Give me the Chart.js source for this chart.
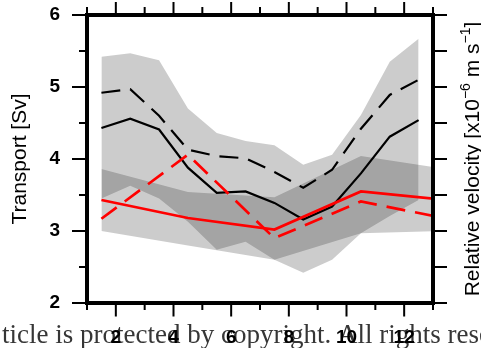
<!DOCTYPE html>
<html>
<head>
<meta charset="utf-8">
<script src="https://cdn.jsdelivr.net/npm/chart.js@4.4.1/dist/chart.umd.min.js"></script>
<style>
    html, body { margin: 0; padding: 0; background: #fff; }
    #wrap { width: 481px; height: 348px; }
</style>
</head>
<body>
<div id="wrap"><canvas id="transportChart" width="481" height="348"></canvas></div>
<script>
// Dati
const months = [1.5, 2.5, 3.5, 4.5, 5.5, 6.5, 7.5, 8.5, 9.5, 10.5, 11.5, 12.5];
const seasons = [1.5, 4.5, 7.5, 10.5, 13.5];
const monthTicks = [1, 2, 3, 4, 5, 6, 7, 8, 9, 10, 11, 12, 13];
const monthLabels = [2, 4, 6, 8, 10, 12];
const transportTicks = [2, 2.5, 3, 3.5, 4, 4.5, 5, 5.5, 6];
const transportLabels = [2, 3, 4, 5, 6];

// Bande di incertezza (mensile e stagionale)
const bandMonthUpper = [5.42, 5.47, 5.37, 4.70, 4.36, 4.25, 4.19, 3.92, 4.06, 4.61, 5.35, 5.67];
const bandMonthLower = [3.45, 3.63, 3.45, 3.13, 2.74, 2.85, 2.60, 2.42, 2.60, 2.97, 3.21, 3.43];
const bandSeasonUpper = [3.86, 3.54, 3.47, 4.04, 3.86];
const bandSeasonLower = [3.00, 2.80, 2.60, 2.97, 3.00];

// Serie
const transportSolid = [4.43, 4.56, 4.41, 3.88, 3.53, 3.55, 3.39, 3.16, 3.34, 3.80, 4.31, 4.54];
const transportDashed = [4.92, 4.97, 4.60, 4.13, 4.04, 4.01, 3.82, 3.60, 3.85, 4.42, 4.89, 5.10];
const velocitySolid = [3.43, 3.18, 3.02, 3.55, 3.43];
const velocityDashed = [3.17, 4.06, 2.90, 3.41, 3.17];

const footerText = 'ticle is protected by copyright. All rights rese';
const FONT = '"Liberation Sans", Arial, Helvetica, sans-serif';

const TransportChart = {
    init: function() {
        this.setupChart();
    },

    points: function(xs, ys) {
        return xs.map((x, i) => ({ x: x, y: ys[i] }));
    },

    band: function(xs, ys, fill) {
        return {
            data: this.points(xs, ys),
            borderWidth: 0,
            borderColor: 'rgba(0,0,0,0)',
            backgroundColor: 'rgba(0,0,0,0.2)',
            pointRadius: 0,
            fill: fill,
            order: 10
        };
    },

    line: function(xs, ys, color, width, dashed, order) {
        return {
            data: this.points(xs, ys),
            borderColor: color,
            borderWidth: width,
            borderDash: dashed ? [19, 10] : [],
            pointRadius: 0,
            fill: false,
            order: order
        };
    },

    // Cornice, tacche, titolo destro e scritta in basso
    decorations: {
        id: 'decorations',
        beforeDraw: function(chart) {
            const ctx = chart.ctx;
            ctx.save();
            ctx.font = '27px "Liberation Serif", "Times New Roman", serif';
            ctx.fillStyle = '#363636';
            ctx.textBaseline = 'alphabetic';
            ctx.fillText(footerText, 2, 343);
            ctx.restore();
        },
        afterDraw: function(chart) {
            const ctx = chart.ctx;
            const a = chart.chartArea;
            const x = chart.scales.x;
            const y = chart.scales.y;
            ctx.save();
            ctx.strokeStyle = '#000';
            ctx.lineWidth = 2;
            ctx.beginPath();
            monthTicks.forEach(m => {
                const px = x.getPixelForValue(m);
                const even = m % 2 === 0;
                ctx.moveTo(px, a.top);
                ctx.lineTo(px, a.top - (even ? 13 : 8));
                ctx.moveTo(px, a.bottom);
                ctx.lineTo(px, a.bottom + (even ? 13.5 : 7));
            });
            transportTicks.forEach(v => {
                const py = y.getPixelForValue(v);
                const major = Number.isInteger(v);
                ctx.moveTo(a.left, py);
                ctx.lineTo(a.left - (major ? 15 : 8), py);
                ctx.moveTo(a.right, py);
                ctx.lineTo(a.right + 14, py);
            });
            ctx.stroke();
            ctx.lineWidth = 4;
            ctx.strokeRect(a.left, a.top, a.right - a.left, a.bottom - a.top);

            // Titolo asse destro con apici
            const parts = [
                ['Relative velocity [x10', 21, 0],
                ['\u22126', 14, 9],
                [' m s', 21, 0],
                ['\u22121', 14, 9],
                [']', 21, 0]
            ];
            let total = 0;
            parts.forEach(p => {
                ctx.font = p[1] + 'px ' + FONT;
                total += ctx.measureText(p[0]).width;
            });
            ctx.translate(479, (a.top + a.bottom) / 2);
            ctx.rotate(-Math.PI / 2);
            ctx.fillStyle = '#000';
            ctx.textBaseline = 'alphabetic';
            let cx = -total / 2;
            parts.forEach(p => {
                ctx.font = p[1] + 'px ' + FONT;
                ctx.fillText(p[0], cx, -p[2]);
                cx += ctx.measureText(p[0]).width;
            });
            ctx.restore();
        }
    },

    setupChart: function() {
        const ctx = document.getElementById('transportChart');
        if (!ctx) return;
        const tickFont = { family: FONT, size: 19, weight: 'bold' };
        this.chart = new Chart(ctx, {
            type: 'line',
            data: {
                datasets: [
                    this.band(months, bandMonthUpper, '+1'),
                    this.band(months, bandMonthLower, false),
                    this.band(seasons, bandSeasonUpper, '+1'),
                    this.band(seasons, bandSeasonLower, false),
                    this.line(months, transportSolid, '#000', 2.2, false, 3),
                    this.line(months, transportDashed, '#000', 2.2, true, 2),
                    this.line(seasons, velocitySolid, '#ff0000', 2.7, false, 1),
                    this.line(seasons, velocityDashed, '#ff0000', 2.7, true, 0)
                ]
            },
            options: {
                responsive: false,
                animation: false,
                devicePixelRatio: 1,
                layout: { padding: { top: 15, left: 0, right: 0, bottom: 0 } },
                plugins: {
                    legend: { display: false },
                    tooltip: { enabled: false }
                },
                scales: {
                    x: {
                        type: 'linear',
                        position: 'bottom',
                        min: 1,
                        max: 13,
                        afterFit: s => { s.height = 45; },
                        afterBuildTicks: s => { s.ticks = monthLabels.map(v => ({ value: v })); },
                        // tacche disegnate dal plugin, qui solo lo spazio per le etichette
                        grid: { display: false, drawTicks: true, tickLength: 23 },
                        border: { display: false },
                        ticks: { padding: 0, font: tickFont, color: '#000', maxRotation: 0, autoSkip: false }
                    },
                    y: {
                        position: 'left',
                        min: 2,
                        max: 6,
                        afterFit: s => { s.width = 87; },
                        afterBuildTicks: s => { s.ticks = transportLabels.map(v => ({ value: v })); },
                        grid: { display: false, drawTicks: true, tickLength: 27 },
                        border: { display: false },
                        ticks: { padding: 0, font: tickFont, color: '#000' },
                        title: {
                            display: true,
                            text: 'Transport [Sv]',
                            color: '#000',
                            font: { family: FONT, size: 21 },
                            padding: { top: 8, bottom: 0 }
                        }
                    },
                    yRight: {
                        position: 'right',
                        min: 2,
                        max: 6,
                        afterFit: s => { s.width = 48; },
                        grid: { display: false, drawTicks: false },
                        border: { display: false },
                        ticks: { display: false }
                    }
                }
            },
            plugins: [this.decorations]
        });
    }
};

document.addEventListener('DOMContentLoaded', () => {
    TransportChart.init();
});
</script>
</body>
</html>
